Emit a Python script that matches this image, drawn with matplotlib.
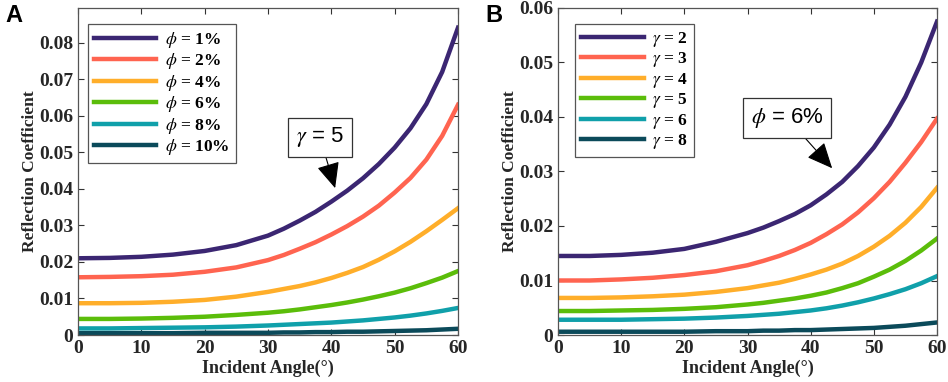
import numpy as np
import matplotlib
matplotlib.use('Agg')
import matplotlib.pyplot as plt

plt.rcParams['font.family'] = 'Liberation Serif'
plt.rcParams['font.weight'] = 'normal'
plt.rcParams['mathtext.fontset'] = 'stix'

# incident angle (deg)
angle = [0, 5, 10, 15, 20, 25, 30, 32.5, 35, 37.5, 40, 42.5, 45, 47.5, 50, 52.5, 55, 57.5, 60]

# panel A: gamma = 5, varying porosity phi
labels_a = ['1%', '2%', '4%', '6%', '8%', '10%']
phi1 = [0.0210, 0.0211, 0.0214, 0.0220, 0.0230, 0.0246, 0.0272, 0.0291, 0.0313, 0.0337, 0.0365, 0.0395, 0.0429, 0.0468, 0.0513, 0.0566, 0.0632, 0.0720, 0.0841]
phi2 = [0.0158, 0.0159, 0.0161, 0.0165, 0.0173, 0.0185, 0.0205, 0.0219, 0.0236, 0.0254, 0.0275, 0.0298, 0.0324, 0.0354, 0.0390, 0.0430, 0.0480, 0.0545, 0.0630]
phi4 = [0.0087, 0.0087, 0.0088, 0.0091, 0.0096, 0.0105, 0.0118, 0.0126, 0.0134, 0.0144, 0.0156, 0.0170, 0.0186, 0.0206, 0.0229, 0.0255, 0.0284, 0.0315, 0.0347]
phi6 = [0.0044, 0.0044, 0.0045, 0.0047, 0.0050, 0.0055, 0.0061, 0.0065, 0.0070, 0.0076, 0.0082, 0.0089, 0.0097, 0.0106, 0.0116, 0.0128, 0.0142, 0.0157, 0.0175]
phi8 = [0.0018, 0.0018, 0.0019, 0.0020, 0.0021, 0.0023, 0.0026, 0.0028, 0.0030, 0.0032, 0.0034, 0.0037, 0.0040, 0.0044, 0.0048, 0.0053, 0.0059, 0.0066, 0.0074]
phi10 = [0.0005, 0.0005, 0.0005, 0.0005, 0.0006, 0.0006, 0.0006, 0.0007, 0.0007, 0.0008, 0.0008, 0.0009, 0.0009, 0.0010, 0.0011, 0.0012, 0.0013, 0.0015, 0.0017]

# panel B: phi = 6%, varying gamma
labels_b = ['2', '3', '4', '5', '6', '8']
gam2 = [0.0145, 0.0145, 0.0147, 0.0151, 0.0158, 0.0171, 0.0187, 0.0197, 0.0209, 0.0222, 0.0238, 0.0258, 0.0281, 0.0310, 0.0344, 0.0386, 0.0437, 0.0500, 0.0575]
gam3 = [0.0100, 0.0100, 0.0102, 0.0105, 0.0110, 0.0117, 0.0128, 0.0136, 0.0145, 0.0156, 0.0169, 0.0185, 0.0203, 0.0225, 0.0251, 0.0281, 0.0316, 0.0354, 0.0397]
gam4 = [0.0068, 0.0068, 0.0069, 0.0071, 0.0074, 0.0079, 0.0086, 0.0091, 0.0096, 0.0103, 0.0111, 0.0120, 0.0131, 0.0145, 0.0162, 0.0182, 0.0206, 0.0235, 0.0270]
gam5 = [0.0044, 0.0044, 0.0045, 0.0046, 0.0048, 0.0051, 0.0056, 0.0059, 0.0063, 0.0067, 0.0072, 0.0078, 0.0086, 0.0095, 0.0107, 0.0120, 0.0136, 0.0155, 0.0177]
gam6 = [0.0028, 0.0028, 0.0028, 0.0029, 0.0030, 0.0032, 0.0035, 0.0037, 0.0039, 0.0042, 0.0045, 0.0049, 0.0054, 0.0060, 0.0067, 0.0075, 0.0084, 0.0095, 0.0108]
gam8 = [0.0006, 0.0006, 0.0006, 0.0006, 0.0006, 0.0007, 0.0007, 0.0008, 0.0008, 0.0009, 0.0009, 0.0010, 0.0011, 0.0012, 0.0013, 0.0015, 0.0017, 0.0020, 0.0023]

colors = ['#3b2672', '#ff6450', '#ffae2a', '#5bbd0a', '#10a0aa', '#0b4a5a']

fig = plt.figure(figsize=(9.48, 3.82), dpi=100)
axA = fig.add_axes([78/948, 1-335/382, 380/948, 327/382])
axB = fig.add_axes([558/948, 1-335/382, 379/948, 327/382])


def style(ax):
    ax.set_xlim(0, 60)
    ax.set_xticks(range(0, 61, 10))
    ax.tick_params(direction='in', length=4, width=0.8, top=True, right=True,
                   labelsize=14, colors='#333333', labelcolor='#262626')
    for s in ax.spines.values():
        s.set_color('#555555')
        s.set_linewidth(0.9)
    for t in ax.get_xticklabels() + ax.get_yticklabels():
        t.set_fontweight('bold')
    ax.set_xlabel('Incident Angle(°)', fontsize=13, fontweight='bold', color='#262626', labelpad=2)
    ax.set_ylabel('Reflection Coefficient', fontsize=12.5, fontweight='bold', color='#262626', labelpad=1)


def legend(ax, x0):
    leg = ax.legend(loc='upper left', bbox_to_anchor=(x0, 0.951), prop={'weight': 'bold', 'size': 12.5},
                    handlelength=3.6, handletextpad=0.5, labelspacing=0.08, borderpad=0.35,
                    borderaxespad=0, fancybox=False, edgecolor='#555555', framealpha=1)
    leg.get_frame().set_linewidth(0.9)


for ys, lab, c in zip([phi1, phi2, phi4, phi6, phi8, phi10], labels_a, colors):
    axA.plot(angle, ys, color=c, lw=3.2, label=r'$\phi$ = ' + lab)
axA.set_ylim(0, 0.0895)
axA.set_yticks([0, 0.01, 0.02, 0.03, 0.04, 0.05, 0.06, 0.07, 0.08])
axA.set_yticklabels(['0', '0.01', '0.02', '0.03', '0.04', '0.05', '0.06', '0.07', '0.08'])
style(axA)
legend(axA, 0.026)
axA.annotate(r'$\gamma$ = 5', xy=(40.6, 0.0402), xytext=(38.2, 0.0541),
             fontsize=16, family='Liberation Sans', ha='center', va='center',
             bbox=dict(boxstyle='square,pad=0.35', fc='white', ec='#333333', lw=0.9),
             arrowprops=dict(arrowstyle='-|>,head_length=1.0,head_width=0.45', color='black', lw=0.8,
                             shrinkA=0, shrinkB=0))

for ys, lab, c in zip([gam2, gam3, gam4, gam5, gam6, gam8], labels_b, colors):
    axB.plot(angle, ys, color=c, lw=3.2, label=r'$\gamma$ = ' + lab)
axB.set_ylim(0, 0.06)
axB.set_yticks([0, 0.01, 0.02, 0.03, 0.04, 0.05, 0.06])
axB.set_yticklabels(['0', '0.01', '0.02', '0.03', '0.04', '0.05', '0.06'])
style(axB)
legend(axB, 0.045)
axB.annotate(r'$\phi$ = 6%', xy=(43.4, 0.0306), xytext=(36.3, 0.0398),
             fontsize=16, family='Liberation Sans', ha='center', va='center',
             bbox=dict(boxstyle='square,pad=0.35', fc='white', ec='#333333', lw=0.9),
             arrowprops=dict(arrowstyle='-|>,head_length=1.0,head_width=0.45', color='black', lw=0.8,
                             shrinkA=0, shrinkB=0))

fig.text(5/948, 1-16/382, 'A', fontsize=17, fontweight='bold', family='Liberation Sans', va='center')
fig.text(485/948, 1-16/382, 'B', fontsize=17, fontweight='bold', family='Liberation Sans', va='center')

fig.savefig('out.png', dpi=100)
